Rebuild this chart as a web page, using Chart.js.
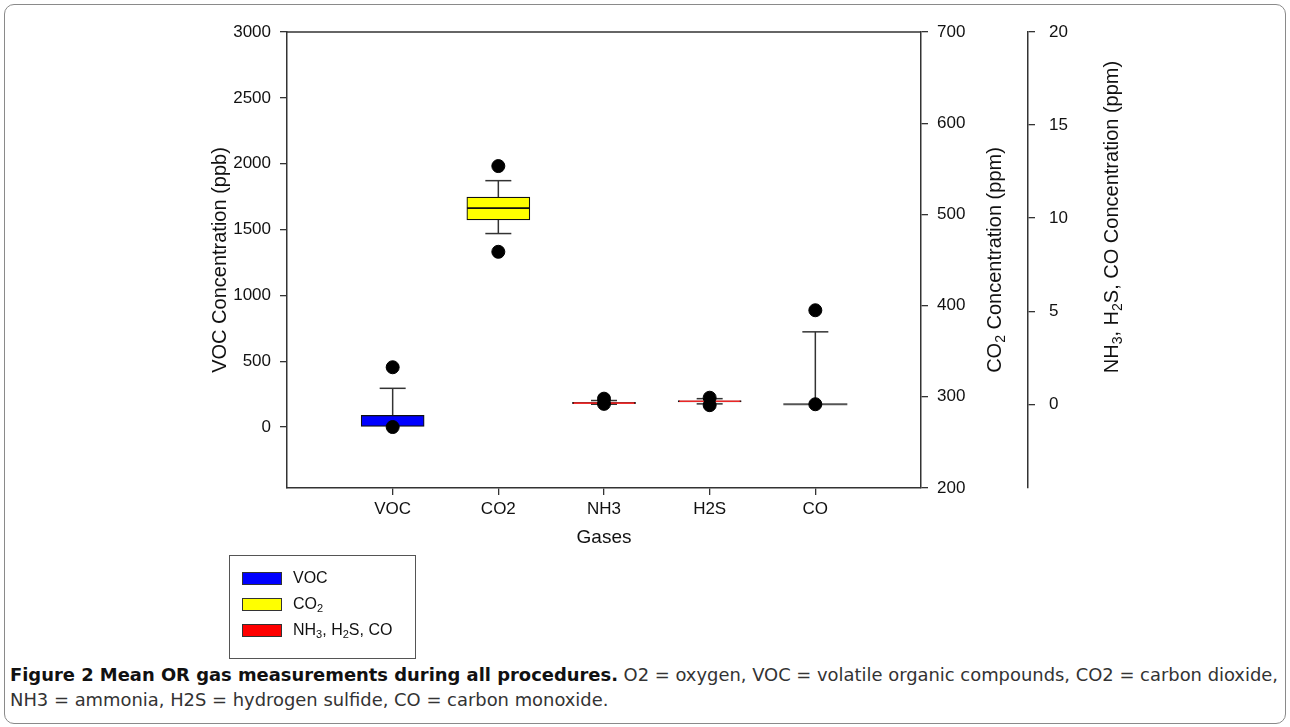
<!DOCTYPE html>
<html>
<head>
<meta charset="utf-8">
<script src="https://cdn.jsdelivr.net/npm/chart.js@4.4.1/dist/chart.umd.min.js"></script>
<style>
  html, body { margin: 0; padding: 0; background: #fff; }
  body { width: 1290px; height: 727px; position: relative; overflow: hidden; font-family: 'Liberation Sans', Arial, sans-serif; }
  .frame { position: absolute; left: 4px; top: 4px; width: 1282px; height: 720px; border: 1px solid #8a8a8a; border-radius: 10px; box-sizing: border-box; }
  #chart { position: absolute; left: 0; top: 0; }
  .legend { position: absolute; left: 229px; top: 555px; width: 187px; height: 104px; border: 1px solid #555; box-sizing: border-box; }
  .item { position: absolute; left: 12px; height: 13px; }
  .swatch { position: absolute; left: 0; top: 0; width: 40px; height: 13px; border: 1px solid #333; box-sizing: border-box; }
  .item span { position: absolute; left: 51px; top: -3px; font-size: 16px; color: #111; white-space: nowrap; }
  .item sub { font-size: 11px; vertical-align: -3px; line-height: 0; }
  .caption { position: absolute; left: 10px; font-family: 'Liberation Sans Narrow', 'DejaVu Sans Condensed', 'Open Sans', sans-serif; font-stretch: condensed; font-size: 18px; color: #333; white-space: nowrap; transform-origin: 0 0; }
  .caption b { color: #111; }
  .line1 { top: 664px; }
  .line2 { top: 689px; }
</style>
</head>
<body>
<div class="frame"></div>
<canvas id="chart" width="1290" height="560"></canvas>
<div class="legend">
  <div class="item" style="top:16px"><div class="swatch" style="background:#0000ff"></div><span>VOC</span></div>
  <div class="item" style="top:42px"><div class="swatch" style="background:#ffff00"></div><span>CO<sub>2</sub></span></div>
  <div class="item" style="top:68px"><div class="swatch" style="background:#ff0000"></div><span>NH<sub>3</sub>, H<sub>2</sub>S, CO</span></div>
</div>
<div class="caption line1" id="cap1"><b>Figure 2 Mean OR gas measurements during all procedures.</b> O2 = oxygen, VOC = volatile organic compounds, CO2 = carbon dioxide,</div>
<div class="caption line2" id="cap2">NH3 = ammonia, H2S = hydrogen sulfide, CO = carbon monoxide.</div>
<script>
const categories = ['VOC', 'CO2', 'NH3', 'H2S', 'CO'];
const axisOf = ['y', 'y2', 'y3', 'y3', 'y3'];

// box plot values (VOC in ppb, CO2 in ppm, others in ppm)
const boxLow = [0, 494, 0.03, 0.12, 0];
const medians = [0, 507, 0.07, 0.16, 0];
const boxHigh = [88, 519, 0.1, 0.2, 0];
const whiskerLow = [0, 479, 0.0, 0.02, 0];
const whiskerHigh = [294, 537, 0.2, 0.3, 3.89];
const outlierHigh = [454, 553, 0.3, 0.35, 5.05];
const outlierLow = [0, 459, 0.02, -0.05, 0];
const boxColors = ['#0000ff', '#ffff00', '#ff0000', '#ff0000', '#ff0000'];

const vocTicks = [0, 500, 1000, 1500, 2000, 2500, 3000];
const co2Ticks = [200, 300, 400, 500, 600, 700];
const gasTicks = [0, 5, 10, 15, 20];

const FONT = 'Liberation Sans';
const tickFont = { family: FONT, size: 17 };

// caption: first line spans the full width in the figure
const cap1 = document.getElementById('cap1');
const cap2 = document.getElementById('cap2');
const capScale = 1268 / cap1.getBoundingClientRect().width;
cap1.style.transform = 'scaleX(' + capScale + ')';
cap2.style.transform = 'scaleX(' + capScale + ')';

const datasets = [];
categories.forEach((c, i) => {
  datasets.push({
    type: 'scatter', label: c + ' outliers', yAxisID: axisOf[i], order: 0,
    data: [{ x: i + 1, y: outlierHigh[i] }, { x: i + 1, y: outlierLow[i] }],
    pointRadius: 6.5, pointHoverRadius: 6.5, backgroundColor: '#000', borderColor: '#000'
  });
  datasets.push({
    type: 'bar', label: c, yAxisID: axisOf[i], order: 1, grouped: false,
    data: [{ x: i + 1, y: [boxLow[i], medians[i]] }],
    backgroundColor: boxColors[i], borderColor: '#111', borderWidth: 1.2, borderSkipped: false, barThickness: 63
  });
  datasets.push({
    type: 'bar', label: c, yAxisID: axisOf[i], order: 1, grouped: false,
    data: [{ x: i + 1, y: [medians[i], boxHigh[i]] }],
    backgroundColor: boxColors[i], borderColor: '#111', borderWidth: 1.2, borderSkipped: false, barThickness: 63
  });
});

const axisGrid = { display: true, drawOnChartArea: false, drawTicks: true, tickLength: 7, color: '#333', lineWidth: 1.3, offset: false };
const axisBorder = { display: true, color: '#333', width: 1.5 };

function drawRich(ctx, parts, size) {
  let total = 0;
  const widths = parts.map(p => {
    ctx.font = (p.sub ? size * 0.7 : size) + 'px "' + FONT + '"';
    const w = ctx.measureText(p.t).width;
    total += w;
    return w;
  });
  let x = -total / 2;
  parts.forEach((p, k) => {
    ctx.font = (p.sub ? size * 0.7 : size) + 'px "' + FONT + '"';
    ctx.fillText(p.t, x, p.sub ? size * 0.3 : 0);
    x += widths[k];
  });
}

const boxPlotPlugin = {
  id: 'boxPlot',
  beforeDatasetsDraw(chart) {
    const ctx = chart.ctx;
    const xs = chart.scales.x;
    ctx.save();
    ctx.strokeStyle = '#333';
    ctx.lineWidth = 1.5;
    const seg = (x1, y1, x2, y2) => { ctx.beginPath(); ctx.moveTo(x1, y1); ctx.lineTo(x2, y2); ctx.stroke(); };
    categories.forEach((c, i) => {
      const ys = chart.scales[axisOf[i]];
      const px = xs.getPixelForValue(i + 1);
      if (whiskerHigh[i] > boxHigh[i]) {
        seg(px, ys.getPixelForValue(boxHigh[i]), px, ys.getPixelForValue(whiskerHigh[i]));
        seg(px - 13, ys.getPixelForValue(whiskerHigh[i]), px + 13, ys.getPixelForValue(whiskerHigh[i]));
      }
      if (whiskerLow[i] < boxLow[i]) {
        seg(px, ys.getPixelForValue(boxLow[i]), px, ys.getPixelForValue(whiskerLow[i]));
        seg(px - 13, ys.getPixelForValue(whiskerLow[i]), px + 13, ys.getPixelForValue(whiskerLow[i]));
      }
      if (boxHigh[i] === boxLow[i]) {
        ctx.save();
        ctx.strokeStyle = '#555';
        ctx.lineWidth = 2;
        seg(px - 32, ys.getPixelForValue(medians[i]), px + 32, ys.getPixelForValue(medians[i]));
        ctx.restore();
      }
    });
    ctx.restore();
  },
  afterDraw(chart) {
    const ctx = chart.ctx;
    const a = chart.chartArea;
    ctx.save();
    // top frame line
    ctx.strokeStyle = '#333';
    ctx.lineWidth = 1.5;
    ctx.beginPath();
    ctx.moveTo(a.left, a.top);
    ctx.lineTo(a.right, a.top);
    ctx.stroke();

    ctx.fillStyle = '#111';
    ctx.textBaseline = 'middle';
    const midY = (a.top + a.bottom) / 2;
    const titles = [
      { x: a.left - 67, y: midY, parts: [{ t: 'VOC Concentration (ppb)' }] },
      { x: chart.scales.y2.left + 74, y: midY, parts: [{ t: 'CO' }, { t: '2', sub: true }, { t: ' Concentration (ppm)' }] },
      { x: chart.scales.y3.left + 84, y: midY - 43, parts: [{ t: 'NH' }, { t: '3', sub: true }, { t: ', H' }, { t: '2', sub: true }, { t: 'S, CO Concentration (ppm)' }] }
    ];
    titles.forEach(t => {
      ctx.save();
      ctx.translate(t.x, t.y);
      ctx.rotate(-Math.PI / 2);
      drawRich(ctx, t.parts, 20);
      ctx.restore();
    });
    ctx.font = '19px "' + FONT + '"';
    ctx.textAlign = 'center';
    ctx.fillText('Gases', (a.left + a.right) / 2, 538);
    ctx.restore();
  }
};

const plainTick = v => String(v);

new Chart(document.getElementById('chart'), {
  type: 'bar',
  data: { datasets },
  plugins: [boxPlotPlugin],
  options: {
    responsive: false,
    animation: false,
    layout: { padding: { left: 0, right: 152, top: 32, bottom: 32 } },
    plugins: { legend: { display: false }, tooltip: { enabled: false } },
    scales: {
      x: {
        type: 'linear', min: 0, max: 6, offset: false,
        afterBuildTicks: s => { s.ticks = categories.map((c, i) => ({ value: i + 1 })); },
        ticks: { callback: (v, idx) => categories[idx], font: tickFont, color: '#111', padding: 4, autoSkip: false, maxRotation: 0 },
        grid: axisGrid, border: axisBorder,
        afterFit: s => { s.height = 40; }
      },
      y: {
        position: 'left', min: -463, max: 3000,
        afterBuildTicks: s => { s.ticks = vocTicks.map(v => ({ value: v })); },
        ticks: { font: tickFont, color: '#111', padding: 9, callback: plainTick },
        grid: axisGrid, border: axisBorder,
        afterFit: s => { s.width = 287; }
      },
      y2: {
        position: 'right', min: 200, max: 700, weight: 0,
        afterBuildTicks: s => { s.ticks = co2Ticks.map(v => ({ value: v })); },
        ticks: { font: tickFont, color: '#111', padding: 9, callback: plainTick },
        grid: axisGrid, border: axisBorder,
        afterFit: s => { s.width = 107; }
      },
      y3: {
        position: 'right', min: -4.5, max: 20, weight: 1,
        afterBuildTicks: s => { s.ticks = gasTicks.map(v => ({ value: v })); },
        ticks: { font: tickFont, color: '#111', padding: 14, callback: plainTick },
        grid: axisGrid, border: axisBorder,
        afterFit: s => { s.width = 110; }
      }
    }
  }
});
</script>
</body>
</html>
